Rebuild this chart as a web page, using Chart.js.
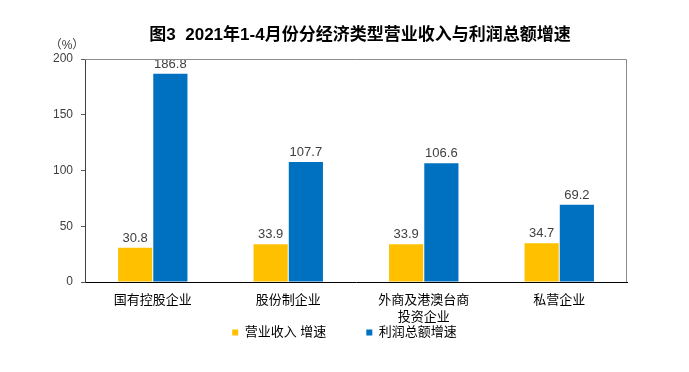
<!DOCTYPE html>
<html>
<head>
<meta charset="utf-8">
<script src="https://cdn.jsdelivr.net/npm/chart.js@4.4.1/dist/chart.umd.min.js"></script>
<style>
    html, body { margin: 0; padding: 0; background: #fff; }
    #chart { display: block; }
</style>
</head>
<body>
<canvas id="chart" width="689" height="372"></canvas>
<script>
// Data
const titleText = '图3  2021年1-4月份分经济类型营业收入与利润总额增速';
const unitText = '（%）';
const categories = ['国有控股企业', '股份制企业', ['外商及港澳台商', '投资企业'], '私营企业'];
const seriesNames = ['营业收入 增速', '利润总额增速'];
const revenueGrowth = [30.8, 33.9, 33.9, 34.7];
const profitGrowth = [186.8, 107.7, 106.6, 69.2];
const yTicks = [0, 50, 100, 150, 200];

const fontFamily = '"Liberation Sans", "Noto Sans CJK SC", sans-serif';
const colors = {
    revenue: '#FFC000',
    profit: '#0070C0',
    text: '#404040'
};

// Title, unit label and the thin frame round the plot
const decorPlugin = {
    id: 'decor',
    afterLayout(chart) {
        // legend sits right under the category labels, spread over the lower band
        const lg = chart.legend;
        lg.top = 286;
        lg.bottom = 372;
        lg.height = lg.bottom - lg.top;
    },
    beforeDraw(chart) {
        const ctx = chart.ctx;
        ctx.save();
        ctx.fillStyle = '#000';
        ctx.textAlign = 'center';
        ctx.textBaseline = 'middle';
        ctx.font = 'bold 17px ' + fontFamily;
        ctx.fillText(titleText, 360, 35);
        ctx.font = '12px ' + fontFamily;
        ctx.fillStyle = colors.text;
        ctx.fillText(unitText, 67, 46);
        ctx.restore();
    },
    afterDraw(chart) {
        const a = chart.chartArea;
        const ctx = chart.ctx;
        ctx.save();
        ctx.strokeStyle = '#8c8c8c';
        ctx.lineWidth = 1;
        ctx.beginPath();
        ctx.moveTo(a.left, a.top + 0.5);
        ctx.lineTo(a.right - 0.5, a.top + 0.5);
        ctx.lineTo(a.right - 0.5, a.bottom);
        ctx.stroke();
        ctx.restore();
    }
};

// Value labels above each bar
const valueLabels = {
    id: 'valueLabels',
    afterDatasetsDraw(chart) {
        const ctx = chart.ctx;
        ctx.save();
        ctx.font = '13px ' + fontFamily;
        ctx.fillStyle = colors.text;
        ctx.textAlign = 'center';
        ctx.textBaseline = 'bottom';
        chart.data.datasets.forEach((ds, i) => {
            chart.getDatasetMeta(i).data.forEach((bar, j) => {
                ctx.fillText(ds.data[j].toFixed(1), bar.x, bar.y - 3);
            });
        });
        ctx.restore();
    }
};

new Chart(document.getElementById('chart').getContext('2d'), {
    type: 'bar',
    data: {
        labels: categories,
        datasets: [
            {
                label: seriesNames[0],
                data: revenueGrowth,
                backgroundColor: colors.revenue,
                categoryPercentage: 0.52,
                barPercentage: 0.97
            },
            {
                label: seriesNames[1],
                data: profitGrowth,
                backgroundColor: colors.profit,
                categoryPercentage: 0.52,
                barPercentage: 0.97
            }
        ]
    },
    options: {
        responsive: false,
        animation: false,
        layout: {
            padding: { top: 59, left: 0, right: 0, bottom: 14 }
        },
        scales: {
            x: {
                grid: { display: false },
                border: { display: true, color: '#000', width: 1 },
                ticks: {
                    color: '#000',
                    font: { family: fontFamily, size: 13, lineHeight: 1.3 },
                    padding: 2,
                    maxRotation: 0,
                    autoSkip: false
                },
                afterFit: (scale) => { scale.height = 46; }
            },
            y: {
                min: 0,
                max: 200,
                afterBuildTicks: (scale) => {
                    scale.ticks = yTicks.map(v => ({ value: v }));
                },
                grid: {
                    drawOnChartArea: false,
                    drawTicks: true,
                    tickLength: 4,
                    color: '#595959'
                },
                border: { display: true, color: '#404040', width: 1 },
                ticks: {
                    color: colors.text,
                    font: { family: fontFamily, size: 12 },
                    padding: 8
                },
                afterFit: (scale) => { scale.width = 85; }
            },
            yRight: {
                position: 'right',
                display: true,
                grid: { display: false },
                border: { display: false },
                ticks: { display: false },
                afterFit: (scale) => { scale.width = 62; }
            }
        },
        plugins: {
            legend: {
                position: 'bottom',
                maxHeight: 30,
                labels: {
                    color: '#000',
                    boxWidth: 6,
                    boxHeight: 6,
                    padding: 40,
                    font: { family: fontFamily, size: 13 }
                }
            },
            title: { display: false },
            tooltip: { enabled: false }
        }
    },
    plugins: [decorPlugin, valueLabels]
});
</script>
</body>
</html>
